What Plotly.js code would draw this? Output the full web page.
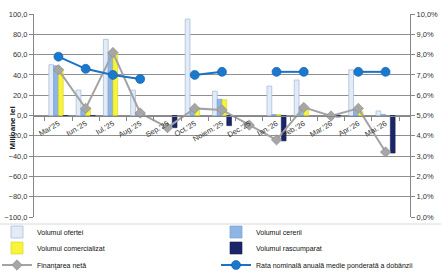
<!DOCTYPE html>
<html>
<head>
<meta charset="utf-8">
<script src="https://cdn.plot.ly/plotly-3.0.1.min.js"></script>
<style>html,body{margin:0;padding:0;background:#fff;}#chart{width:441px;height:275px;}</style>
</head>
<body>
<div id="chart"></div>
<script>
const categories = ["Mar'25","Iun.'25","Iul.'25","Aug.'25","Sep.'25","Oct.'25","Noiem.'25","Dec.'25","Ian.'26","Feb.'26","Mar.'26","Apr.'26","Mai.'26"];
const volumOfertei = [50, 25, 75, 25, null, 95, 24, null, 29, 35, null, 45, 4.5];
const volumCererii = [49, 7, 62, 3, null, 7, 16, null, 1, 7, null, 5, 1];
const volumComercializat = [46, 7.5, 62, 2, null, 5, 15.5, null, 1, 5.5, null, 4, null];
const volumRascumparat = [-1, -1, null, null, -12, null, -10, null, -25, null, -1.5, null, -37];
const finantareNeta = [45, 7, 62, 2.5, -12, 7, 5.5, -9.5, -24, 8, -0.5, 7, -36];
const rataDobanzii = [7.9, 7.3, 7.0, 6.8, null, 7.0, 7.15, null, 7.15, 7.15, null, 7.15, 7.15];

const FONT = "Liberation Sans, Arial, sans-serif";
const grey = "#868686";

const traces = [
  {type:'bar', name:'Volumul ofertei', x:categories, y:volumOfertei, legend:'legend',
   marker:{color:'#e3ebf6', line:{color:'#a8bfdc', width:0.8}}},
  {type:'bar', name:'Volumul cererii', x:categories, y:volumCererii, legend:'legend2',
   marker:{color:'#8fb5e4', line:{color:'#6f99cf', width:0.6}}},
  {type:'bar', name:'Volumul comercializat', x:categories, y:volumComercializat, legend:'legend3',
   marker:{color:'#f7f43a', line:{color:'#d6d21c', width:0.6}}},
  {type:'bar', name:'Volumul rascumparat', x:categories, y:volumRascumparat, legend:'legend4',
   marker:{color:'#1b2668', line:{color:'#141d55', width:0.6}}},
  {type:'scatter', mode:'lines+markers', name:'Finanţarea netă', x:categories, y:finantareNeta, legend:'legend5',
   line:{color:'#a3a3a3', width:2}, marker:{symbol:'diamond', size:8, color:'#a6a6a6', line:{color:'#8a8a8a', width:0.6}}},
  {type:'scatter', mode:'lines+markers', name:'Rata nominală anuală medie ponderată a dobânzii', x:categories, y:rataDobanzii,
   yaxis:'y2', connectgaps:false, legend:'legend6',
   line:{color:'#1a73c6', width:2}, marker:{symbol:'circle', size:9, color:'#1a78cf', line:{color:'#0e5aa3', width:0.6}}}
];

const plotL = 34, plotR = 410, plotT = 14, plotB = 217;
const pw = plotR - plotL, ph = plotB - plotT;
const px2x = p => (p - plotL) / pw;
const px2y = p => (plotB - p) / ph;

const legFont = {family:FONT, size:7, color:'#111'};
function leg(xpx, ypx) {
  return {orientation:'v', x:px2x(xpx), xanchor:'left', y:px2y(ypx), yanchor:'middle',
    font:legFont, bgcolor:'rgba(0,0,0,0)', borderwidth:0};
}
const colL = -3, colR = 216;
const rows = [232, 248, 265];

const layout = {
  width:441, height:275,
  margin:{l:plotL, r:441-plotR, t:plotT, b:275-plotB, autoexpand:false},
  paper_bgcolor:'#fff', plot_bgcolor:'#fff',
  separators:',.',
  font:{family:FONT, size:7.5, color:'#333'},
  barmode:'group', bargap:0.3, bargroupgap:0,
  showlegend:true,
  legend: leg(colL, rows[0]),
  legend2: leg(colR, rows[0]),
  legend3: leg(colL, rows[1]),
  legend4: leg(colR, rows[1]),
  legend5: leg(colL, rows[2]),
  legend6: leg(colR, rows[2]),
  xaxis:{type:'category', anchor:'free', position:0.5, showline:true, linecolor:grey, linewidth:1,
    ticks:'outside', tickson:'boundaries', ticklen:4, tickcolor:grey, tickangle:-30,
    tickfont:{family:FONT, size:7.5, color:'#333'}, showgrid:false, automargin:false},
  yaxis:{range:[-100,100], dtick:20, tickformat:'.1f', showgrid:true, gridcolor:'#8f8f8f', gridwidth:1,
    zeroline:false, showline:true, linecolor:grey, ticks:'outside', ticklen:4, tickcolor:grey,
    tickfont:{family:FONT, size:7.5, color:'#333'}, automargin:false},
  yaxis2:{overlaying:'y', side:'right', range:[0,10], dtick:1, tickformat:'.1f', ticksuffix:'%',
    showgrid:false, zeroline:false, showline:true, linecolor:grey, ticks:'outside', ticklen:4, tickcolor:grey,
    tickfont:{family:FONT, size:7.5, color:'#333'}, automargin:false},
  annotations:[
    {text:'<b>Milioane lei</b>', xref:'paper', yref:'paper', x:px2x(5), y:px2y(128),
     textangle:-90, showarrow:false, font:{family:FONT, size:8, color:'#222'}}
  ],
  shapes:[
    {type:'line', xref:'paper', yref:'paper', x0:px2x(0), x1:px2x(441), y0:px2y(224), y1:px2y(224),
     line:{color:'#d9d9d9', width:1}}
  ]
};

Plotly.newPlot('chart', traces, layout, {displayModeBar:false, staticPlot:true});
</script>
</body>
</html>
